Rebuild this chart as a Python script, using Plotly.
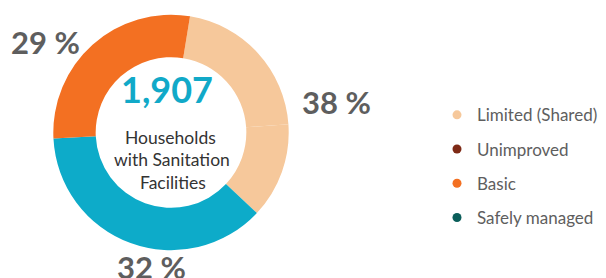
import plotly.graph_objects as go

# The page body adds an 8px margin, so the figure is drawn 8px smaller
W, H = 598, 270
OFF = 8

# Ring segments (share of the drawn circle, clockwise from the start angle)
slice_names = ["Limited (Shared) A", "Limited (Shared) B", "Blue segment", "Basic"]
slice_values = [21.3, 13.1, 37.2, 28.4]
slice_colors = ["#F6C89B", "#F6C89B", "#0DABC9", "#F37022"]

# Printed percentage labels
pct_labels = ["38 %", "29 %", "32 %"]

# Legend
legend_names = ["Limited (Shared)", "Unimproved", "Basic", "Safely managed"]
legend_colors = ["#F6C89B", "#7E2A16", "#F37022", "#0B5E5A"]

total_households = "1,907"
center_lines = ["Households", "with Sanitation", "Facilities"]


def px(x):
    return (x - OFF) / W


def py(y):
    return 1 - (y - OFF) / H


cx, cy, R = 171.0, 132.5, 117.7

fig = go.Figure()
fig.add_trace(go.Pie(
    labels=slice_names,
    values=slice_values,
    marker=dict(colors=slice_colors, line=dict(width=0)),
    hole=0.64,
    sort=False,
    direction="clockwise",
    rotation=9.3,
    textinfo="none",
    hoverinfo="skip",
    showlegend=False,
    domain=dict(x=[px(cx - R), px(cx + R)], y=[py(cy + R), py(cy - R)]),
))

for name, col in zip(legend_names, legend_colors):
    fig.add_trace(go.Scatter(
        x=[None], y=[None], mode="markers", name=name,
        marker=dict(color=col, size=9), legendgroup=name,
    ))

annos = []
annos.append(dict(x=px(167.4), y=py(89), text="<b>" + total_households + "</b>",
                  font=dict(family="Lato", size=36, color="#11A9C8")))
line_x = [170.8, 172.3, 173.3]
for i, t in enumerate(center_lines):
    annos.append(dict(x=px(line_x[i]), y=py(137 + i * 22.7), text=t,
                      font=dict(family="Lato", size=17.5, color="#333333")))
label_pos = [(336, 102), (45.3, 41.5), (151, 267)]
for t, (x, y) in zip(pct_labels, label_pos):
    annos.append(dict(x=px(x), y=py(y), text="<b>" + t + "</b>",
                      font=dict(family="Lato", size=31, color="#5E5E5E")))
for a in annos:
    a.update(xref="paper", yref="paper", showarrow=False, xanchor="center", yanchor="middle")

fig.update_layout(
    width=W, height=H,
    margin=dict(l=0, r=0, t=0, b=0),
    paper_bgcolor="white", plot_bgcolor="white",
    font=dict(family="Lato"),
    xaxis=dict(visible=False), yaxis=dict(visible=False),
    annotations=annos,
    legend=dict(x=px(437), y=py(97.3), xanchor="left", yanchor="top",
                font=dict(family="Lato", size=17, color="#5E5E5E"),
                tracegroupgap=9.1, bgcolor="rgba(0,0,0,0)"),
)

fig.write_html("out.html")
